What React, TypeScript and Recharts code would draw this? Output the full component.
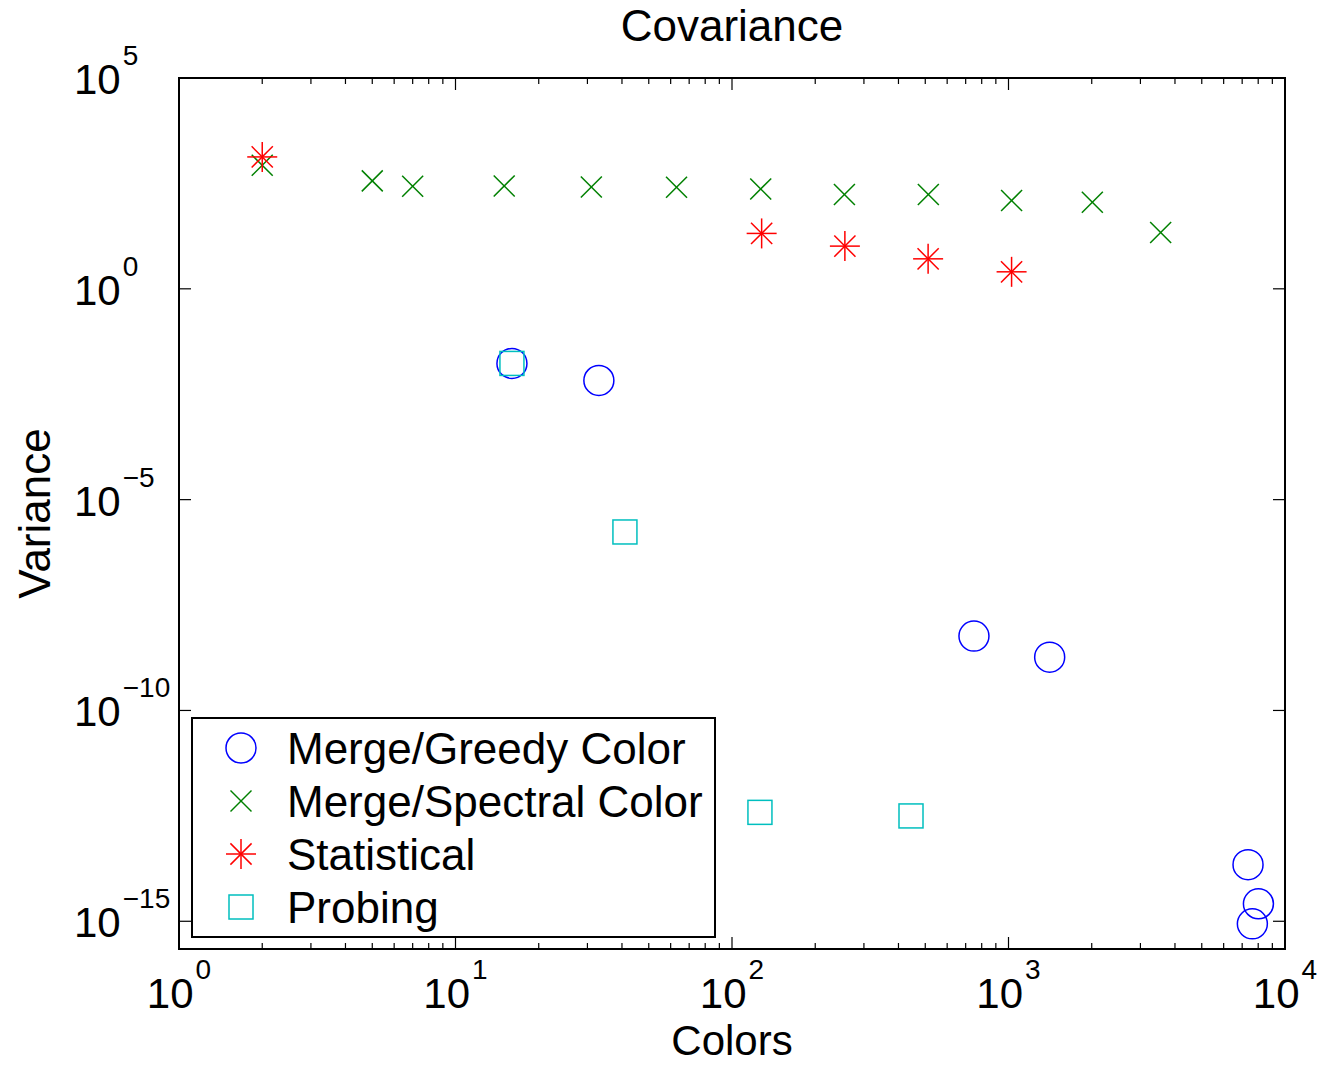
import React from 'react';
import { ScatterChart, Scatter, XAxis, YAxis, ReferenceArea, Legend } from 'recharts';

// ---------- data ----------
const greedyX = [16, 33, 750, 1409, 7350, 8015, 7620];
const greedyY = [0.017, 0.0067, 5.8e-9, 1.84e-9, 2.2e-14, 2.6e-15, 8.7e-16];

const spectralX = [2, 5, 7, 15, 31, 63, 127, 255, 513, 1026, 2010, 3550];
const spectralY = [850, 363, 272, 275, 261, 257, 234, 173, 173, 124, 113, 21.7];

const statX = [2, 128, 256, 512, 1026];
const statY = [1343, 20.6, 10.3, 5.14, 2.53];

const probingX = [16, 41, 126.2, 444];
const probingY = [0.017, 1.71e-6, 3.83e-13, 3.15e-13];

const seriesNames = ['Merge/Greedy Color', 'Merge/Spectral Color', 'Statistical', 'Probing'];
const seriesColors = ['#0000FF', '#008000', '#FF0000', '#00BFBF'];

const xMajorTicks = [1, 10, 100, 1000, 10000];
const xMinorSteps = [2, 3, 4, 5, 6, 7, 8, 9];
const yTicks = [1e-15, 1e-10, 1e-5, 1, 1e5];
const xDomain = [1, 10000];
const yDomain = [2.2e-16, 1e5];

const titleText = 'Covariance';
const xLabelText = 'Colors';
const yLabelText = 'Variance';

// ---------- layout (page coordinates; the chart is placed at the page origin) ----------
const FONT = '"Liberation Sans", Arial, Helvetica, sans-serif';
const W = 1325;
const H = 1065;
const PLOT_LEFT = 179;
const PLOT_RIGHT = 1285;
const PLOT_TOP = 78;
const PLOT_BOTTOM = 949;
const PLOT_W = PLOT_RIGHT - PLOT_LEFT;
const PLOT_H = PLOT_BOTTOM - PLOT_TOP;
const X_AXIS_H = 60;
const Y_AXIS_W = 100;

const xTicks: number[] = [];
xMajorTicks.forEach((m, i) => {
  xTicks.push(m);
  if (i < xMajorTicks.length - 1) xMinorSteps.forEach((s) => xTicks.push(m * s));
});

const toPoints = (xs: number[], ys: number[]) => xs.map((x, i) => ({ x, y: ys[i] }));
const greedyData = toPoints(greedyX, greedyY);
const spectralData = toPoints(spectralX, spectralY);
const statData = toPoints(statX, statY);
const probingData = toPoints(probingX, probingY);

const expLabel = (e: number) => (e < 0 ? '\u2212' + String(-e) : String(e));

// ---------- marker shapes ----------
const SW = 1.5;
const circleMark = (cx: number, cy: number, key?: string) => (
  <circle key={key} cx={cx} cy={cy} r={15} fill="none" stroke={seriesColors[0]} strokeWidth={SW} />
);
const xMark = (cx: number, cy: number, key?: string) => {
  const h = 10.5;
  return (
    <g key={key} stroke={seriesColors[1]} strokeWidth={SW}>
      <line x1={cx - h} y1={cy - h} x2={cx + h} y2={cy + h} />
      <line x1={cx - h} y1={cy + h} x2={cx + h} y2={cy - h} />
    </g>
  );
};
const starMark = (cx: number, cy: number, key?: string) => {
  const h = 15;
  const d = 10.6;
  return (
    <g key={key} stroke={seriesColors[2]} strokeWidth={SW}>
      <line x1={cx - h} y1={cy} x2={cx + h} y2={cy} />
      <line x1={cx} y1={cy - h} x2={cx} y2={cy + h} />
      <line x1={cx - d} y1={cy - d} x2={cx + d} y2={cy + d} />
      <line x1={cx - d} y1={cy + d} x2={cx + d} y2={cy - d} />
    </g>
  );
};
const squareMark = (cx: number, cy: number, key?: string) => (
  <rect key={key} x={cx - 12} y={cy - 12} width={24} height={24} fill="none" stroke={seriesColors[3]} strokeWidth={SW} />
);
const markers = [circleMark, xMark, starMark, squareMark];

const CircleShape = (p: any) => circleMark(p.cx, p.cy);
const XShape = (p: any) => xMark(p.cx, p.cy);
const StarShape = (p: any) => starMark(p.cx, p.cy);
const SquareShape = (p: any) => squareMark(p.cx, p.cy);

// ---------- ticks ----------
const XTick = (props: any) => {
  const { x, y, payload } = props;
  const v = payload.value;
  const lg = Math.log10(v);
  const e = Math.round(lg);
  const major = Math.abs(lg - e) < 1e-9;
  const len = major ? 12 : 6;
  return (
    <g>
      <line x1={x} y1={y} x2={x} y2={y - len} stroke="#000" strokeWidth={1.2} />
      <line x1={x} y1={y - PLOT_H} x2={x} y2={y - PLOT_H + len} stroke="#000" strokeWidth={1.2} />
      {major && (
        <text x={x} y={y + 59} textAnchor="middle" fontFamily={FONT} fontSize={42} fill="#000">
          10
          <tspan dx={2} dy={-29} fontSize={28}>
            {expLabel(e)}
          </tspan>
        </text>
      )}
    </g>
  );
};

const YTick = (props: any) => {
  const { x, y, payload } = props;
  const e = Math.round(Math.log10(payload.value));
  return (
    <g>
      <line x1={x} y1={y} x2={x + 12} y2={y} stroke="#000" strokeWidth={1.2} />
      <line x1={x + PLOT_W - 12} y1={y} x2={x + PLOT_W} y2={y} stroke="#000" strokeWidth={1.2} />
      <text x={x - 105} y={y + 16} textAnchor="start" fontFamily={FONT} fontSize={42} fill="#000">
        10
        <tspan dx={2} dy={-29} fontSize={28}>
          {expLabel(e)}
        </tspan>
      </text>
    </g>
  );
};

// ---------- legend ----------
const LEG_LEFT = 191;
const LEG_TOP = 717;
const LEG_W = 525;
const LEG_H = 221;
const LegendBox = () => (
  <svg width={LEG_W} height={LEG_H} style={{ display: 'block' }}>
    <rect x={1} y={1} width={LEG_W - 2} height={LEG_H - 2} fill="#fff" stroke="#000" strokeWidth={2} />
    {seriesNames.map((name, i) => {
      const cy = 31 + 53 * i;
      return (
        <g key={name}>
          {markers[i](50, cy)}
          <text x={96} y={cy + 16} fontFamily={FONT} fontSize={44} fill="#000">
            {name}
          </text>
        </g>
      );
    })}
  </svg>
);

export default function App() {
  return (
    <div style={{ width: W, height: H, position: 'relative', background: '#fff', margin: -8 }}>
      <ScatterChart
        width={W}
        height={H}
        margin={{ top: PLOT_TOP, left: PLOT_LEFT - Y_AXIS_W, right: W - PLOT_RIGHT, bottom: H - PLOT_BOTTOM - X_AXIS_H }}
        style={{ fontFamily: FONT }}
      >
        <XAxis
          dataKey="x"
          type="number"
          scale="log"
          domain={xDomain}
          allowDataOverflow
          ticks={xTicks}
          interval={0}
          tickSize={0}
          tickMargin={0}
          tickLine={false}
          axisLine={false}
          height={X_AXIS_H}
          tick={<XTick />}
        />
        <YAxis
          dataKey="y"
          type="number"
          scale="log"
          domain={yDomain}
          allowDataOverflow
          ticks={yTicks}
          interval={0}
          tickSize={0}
          tickMargin={0}
          tickLine={false}
          axisLine={false}
          width={Y_AXIS_W}
          tick={<YTick />}
        />
        <ReferenceArea
          x1={xDomain[0]}
          x2={xDomain[1]}
          y1={yDomain[0]}
          y2={yDomain[1]}
          fill="none"
          fillOpacity={0}
          stroke="#000"
          strokeWidth={2}
          ifOverflow="visible"
        />
        <Scatter name={seriesNames[0]} data={greedyData} shape={CircleShape} isAnimationActive={false} />
        <Scatter name={seriesNames[1]} data={spectralData} shape={XShape} isAnimationActive={false} />
        <Scatter name={seriesNames[2]} data={statData} shape={StarShape} isAnimationActive={false} />
        <Scatter name={seriesNames[3]} data={probingData} shape={SquareShape} isAnimationActive={false} />
        <Legend
          layout="horizontal"
          verticalAlign="middle"
          align="center"
          wrapperStyle={{ position: 'absolute', left: LEG_LEFT, top: LEG_TOP, width: LEG_W, height: LEG_H }}
          content={() => <LegendBox />}
        />
        <text x={(PLOT_LEFT + PLOT_RIGHT) / 2} y={41} textAnchor="middle" fontFamily={FONT} fontSize={44} fill="#000">
          {titleText}
        </text>
        <text x={(PLOT_LEFT + PLOT_RIGHT) / 2} y={1055} textAnchor="middle" fontFamily={FONT} fontSize={42} fill="#000">
          {xLabelText}
        </text>
        <text
          x={50}
          y={(PLOT_TOP + PLOT_BOTTOM) / 2}
          textAnchor="middle"
          fontFamily={FONT}
          fontSize={44}
          fill="#000"
          transform={`rotate(-90, 50, ${(PLOT_TOP + PLOT_BOTTOM) / 2})`}
        >
          {yLabelText}
        </text>
      </ScatterChart>
    </div>
  );
}
